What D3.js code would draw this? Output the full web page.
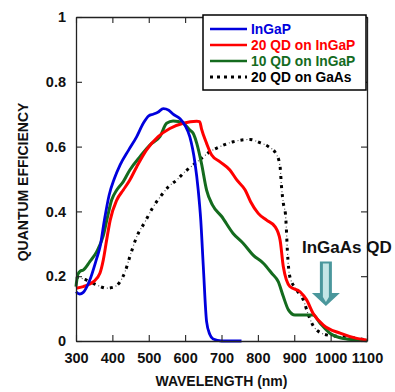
<!DOCTYPE html>
<html>
<head>
<meta charset="utf-8">
<script src="https://cdn.jsdelivr.net/npm/d3@7"></script>
<style>
  body { margin: 0; background: #fff; }
  svg text { font-family: Arial, "Liberation Sans", Helvetica, sans-serif; font-weight: bold; }
</style>
</head>
<body>
<div id="chart"></div>
<script>
// wavelength (nm), quantum efficiency
const ingap = [[300,0.152],[310,0.145],[320,0.15],[338,0.188],[357,0.255],[366,0.29],[378,0.373],[391,0.45],[405,0.5],[421,0.543],[445,0.59],[467,0.631],[485,0.672],[500,0.695],[512,0.70],[525,0.706],[540,0.717],[555,0.712],[567,0.70],[586,0.686],[600,0.665],[613,0.63],[627,0.55],[636,0.466],[643,0.373],[650,0.23],[659,0.06],[668,0.02],[677,0.006],[700,0],[755,0]];
const qd20InGaP = [[300,0.163],[320,0.168],[348,0.183],[366,0.21],[375,0.25],[384,0.31],[394,0.373],[412,0.435],[430,0.466],[448,0.497],[467,0.538],[494,0.59],[526,0.631],[558,0.656],[595,0.672],[632,0.678],[640,0.677],[645,0.655],[659,0.61],[673,0.574],[696,0.553],[723,0.528],[742,0.497],[765,0.466],[780,0.43],[801,0.394],[824,0.373],[847,0.353],[861,0.312],[870,0.229],[888,0.168],[916,0.152],[934,0.127],[952,0.085],[980,0.049],[1026,0.024],[1072,0.008],[1099,0.003]];
const qd10InGaP = [[300,0.168],[305,0.205],[312,0.216],[320,0.219],[338,0.245],[357,0.276],[375,0.325],[386,0.38],[398,0.435],[412,0.466],[430,0.492],[448,0.528],[476,0.569],[503,0.605],[531,0.631],[549,0.672],[567,0.679],[595,0.672],[613,0.651],[622,0.641],[632,0.61],[645,0.548],[659,0.466],[675,0.42],[700,0.385],[732,0.332],[760,0.301],[787,0.265],[815,0.24],[838,0.209],[856,0.183],[870,0.137],[884,0.096],[902,0.08],[925,0.08],[952,0.08],[971,0.055],[998,0.024],[1035,0.008],[1081,0.003],[1100,0.001]];
const qd20GaAs = [[300,0.198],[329,0.188],[357,0.173],[384,0.163],[403,0.166],[421,0.183],[435,0.214],[448,0.26],[467,0.322],[490,0.368],[510,0.41],[535,0.45],[554,0.476],[577,0.497],[600,0.523],[622,0.543],[645,0.564],[668,0.584],[696,0.6],[732,0.615],[778,0.622],[806,0.612],[829,0.6],[852,0.574],[861,0.538],[865,0.476],[870,0.425],[876,0.39],[878,0.353],[881,0.281],[888,0.198],[907,0.157],[925,0.127],[939,0.08],[957,0.039],[989,0.019],[1035,0.013],[1072,0.008],[1099,0.003]];

const xTicks = [300,400,500,600,700,800,900,1000,1100];
const yTicks = [0,0.2,0.4,0.6,0.8,1];

const series = [
  {name: "InGaP", data: ingap, color: "#0000dd", dash: null, width: 2.8},
  {name: "20 QD on InGaP", data: qd20InGaP, color: "#ff0000", dash: null, width: 3},
  {name: "10 QD on InGaP", data: qd10InGaP, color: "#146b1e", dash: null, width: 3},
  {name: "20 QD on GaAs", data: qd20GaAs, color: "#000000", dash: "3,6", width: 3}
];

const W = 395, H = 392;
const m = {left: 76, right: 28, top: 17, bottom: 51};

const svg = d3.select("#chart").append("svg")
  .attr("width", W).attr("height", H);

const x = d3.scaleLinear().domain([300, 1100]).range([m.left, W - m.right]);
const y = d3.scaleLinear().domain([0, 1]).range([H - m.bottom, m.top]);

const line = d3.line()
  .x(d => x(d[0])).y(d => y(d[1]))
  .curve(d3.curveMonotoneX);

// thin dots between the squares of the dotted GaAs curve
svg.append("path")
  .attr("d", line(qd20GaAs))
  .attr("fill", "none").attr("stroke", "#555").attr("stroke-width", 1.2)
  .attr("stroke-dasharray", "1,8").attr("stroke-dashoffset", -6);

// curves
svg.append("g").selectAll("path")
  .data(series.slice().reverse())
  .enter().append("path")
  .attr("d", d => line(d.data))
  .attr("fill", "none")
  .attr("stroke", d => d.color)
  .attr("stroke-width", d => d.width)
  .attr("stroke-dasharray", d => d.dash)
  .attr("stroke-linejoin", "round");

// frame with inward ticks
const axColor = "#222";
function styleAxis(g) {
  g.selectAll(".domain").attr("stroke", axColor).attr("stroke-width", 1.3);
  g.selectAll(".tick line").attr("stroke", axColor).attr("stroke-width", 1.1);
}
svg.append("g").attr("transform", `translate(0,${y(0)})`)
  .call(d3.axisBottom(x).tickValues(xTicks).tickSizeInner(-6).tickSizeOuter(0).tickPadding(12).tickFormat(d3.format("d")))
  .call(styleAxis)
  .call(g => g.selectAll("text").attr("font-size", 14.5).attr("fill", "#111").attr("font-family", null));
svg.append("g").attr("transform", `translate(0,${y(1)})`)
  .call(d3.axisTop(x).tickValues(xTicks).tickSizeInner(-6).tickSizeOuter(0).tickFormat(""))
  .call(styleAxis);
svg.append("g").attr("transform", `translate(${x(300)},0)`)
  .call(d3.axisLeft(y).tickValues(yTicks).tickSizeInner(-6).tickSizeOuter(0).tickPadding(10).tickFormat(d => d === 0 || d === 1 ? d3.format("d")(d) : d3.format(".1f")(d)))
  .call(styleAxis)
  .call(g => g.selectAll("text").attr("font-size", 14.5).attr("fill", "#111").attr("font-family", null));
svg.append("g").attr("transform", `translate(${x(1100)},0)`)
  .call(d3.axisRight(y).tickValues(yTicks).tickSizeInner(-6).tickSizeOuter(0).tickFormat(""))
  .call(styleAxis);

// axis titles
svg.append("text")
  .attr("x", (x(300) + x(1100)) / 2).attr("y", 386)
  .attr("text-anchor", "middle").attr("font-size", 14).attr("fill", "#111")
  .text("WAVELENGTH (nm)");
svg.append("text")
  .attr("transform", `translate(28,${(y(0) + y(1)) / 2 + 3}) rotate(-90)`)
  .attr("text-anchor", "middle").attr("font-size", 14).attr("fill", "#111")
  .text("QUANTUM EFFICIENCY");

// legend
const lg = svg.append("g").attr("transform", "translate(203,15)");
lg.append("rect").attr("width", 163).attr("height", 75)
  .attr("fill", "#fff").attr("stroke", "#000").attr("stroke-width", 1.5);
series.forEach((s, i) => {
  const yy = 14 + i * 16;
  lg.append("line").attr("x1", 7).attr("x2", 44).attr("y1", yy).attr("y2", yy)
    .attr("stroke", s.color).attr("stroke-width", s.dash ? 3 : 2.5)
    .attr("stroke-dasharray", s.dash ? "3,4" : null);
  lg.append("text").attr("x", 48).attr("y", yy + 5)
    .attr("font-size", 13.8).attr("fill", s.color === "#000000" ? "#000" : s.color)
    .text(s.name);
});

// InGaAs QD annotation with arrow
svg.append("text").attr("x", 302).attr("y", 253)
  .attr("font-size", 17).attr("fill", "#111").text("InGaAs QD");

const ax = x(987), aTop = y(0.245), aBase = y(0.148), aTip = y(0.108);
const shaftHalf = 6, headHalf = 14;
svg.append("path")
  .attr("d", `M${ax - shaftHalf},${aTop} L${ax + shaftHalf},${aTop} L${ax + shaftHalf},${aBase} L${ax + headHalf},${aBase} L${ax},${aTip} L${ax - headHalf},${aBase} L${ax - shaftHalf},${aBase} Z`)
  .attr("fill", "#4a979c");
svg.append("path")
  .attr("d", `M${ax - 3},${aTop + 2} L${ax + 3},${aTop + 2} L${ax + 3},${aBase + 4} L${ax},${aBase + 9} L${ax - 3},${aBase + 4} Z`)
  .attr("fill", "#c4e6e6");
</script>
</body>
</html>
